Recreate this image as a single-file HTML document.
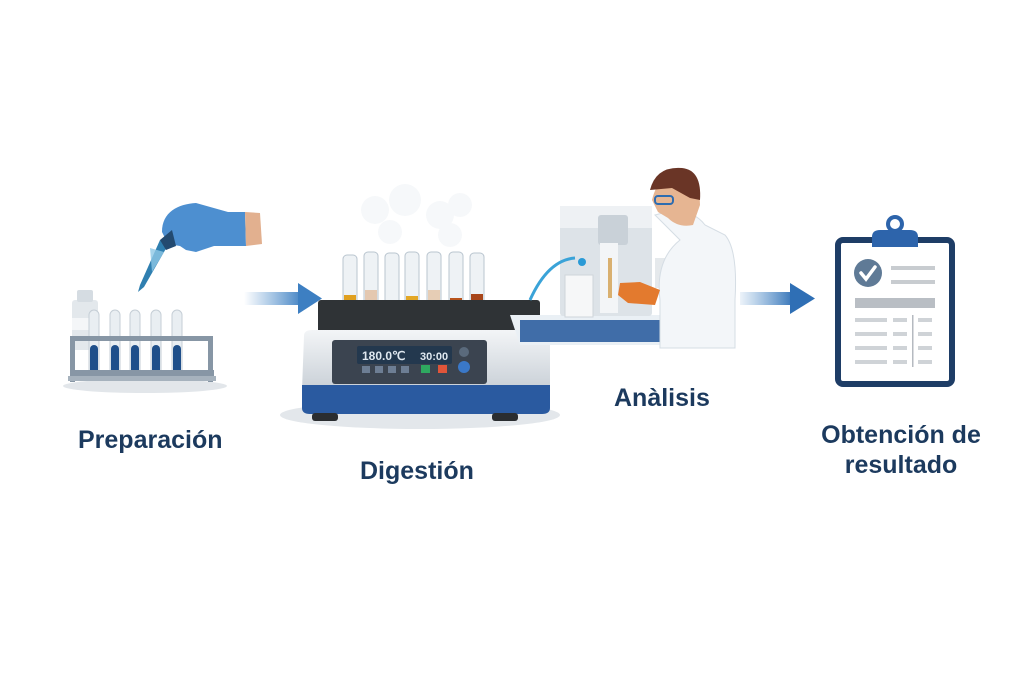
<!DOCTYPE html>
<html><head><meta charset="utf-8"><style>
html,body{margin:0;padding:0;background:#fff;width:1024px;height:683px;overflow:hidden}
svg{display:block}
text{font-family:"Liberation Sans",sans-serif;font-weight:bold;fill:#1c3a5e}
</style></head><body>
<svg width="1024" height="683" viewBox="0 0 1024 683" xmlns="http://www.w3.org/2000/svg">
<defs>
<linearGradient id="ar" x1="0" x2="1"><stop offset="0" stop-color="#4a8bc9" stop-opacity="0"/><stop offset="1" stop-color="#3d7fc2"/></linearGradient>
<linearGradient id="ar2" x1="0" x2="1"><stop offset="0" stop-color="#4a8bc9" stop-opacity="0.1"/><stop offset="1" stop-color="#2f6fb5"/></linearGradient>
<linearGradient id="body" x1="0" y1="0" x2="0" y2="1"><stop offset="0" stop-color="#f3f5f7"/><stop offset="1" stop-color="#c9d0d7"/></linearGradient>
</defs>

<!-- Preparación -->
<ellipse cx="145" cy="386" rx="82" ry="7" fill="#e2e6ea"/>
<rect x="72" y="300" width="26" height="50" rx="3" fill="#e3e8ec"/>
<rect x="77" y="290" width="16" height="12" rx="2" fill="#d5dce2"/>
<rect x="72" y="318" width="26" height="12" fill="#f4f6f8"/>
<g fill="#e9eef2" stroke="#c5ced6">
<rect x="89" y="310" width="10" height="70" rx="5"/><rect x="110" y="310" width="10" height="70" rx="5"/><rect x="130" y="310" width="10" height="70" rx="5"/><rect x="151" y="310" width="10" height="70" rx="5"/><rect x="172" y="310" width="10" height="70" rx="5"/>
</g>
<g fill="#1f4f8a">
<rect x="90" y="345" width="8" height="34" rx="4"/><rect x="111" y="345" width="8" height="34" rx="4"/><rect x="131" y="345" width="8" height="34" rx="4"/><rect x="152" y="345" width="8" height="34" rx="4"/><rect x="173" y="345" width="8" height="34" rx="4"/>
</g>
<rect x="72" y="336" width="140" height="5" fill="#8796a5"/>
<rect x="70" y="370" width="144" height="6" fill="#8796a5"/>
<rect x="70" y="336" width="5" height="46" fill="#8796a5"/>
<rect x="208" y="336" width="5" height="46" fill="#8796a5"/>
<rect x="68" y="376" width="148" height="5" fill="#a6b2bd"/>
<path d="M160 240 L140 285 L138 292 L144 287 L168 245 Z" fill="#2f7fb0"/>
<path d="M150 248 L164 252 L152 272 Z" fill="#8fc8e6" opacity="0.8"/>
<path d="M162 232 C162 212 178 204 196 203 L228 212 L245 212 L246 246 L214 246 L196 252 L186 250 L180 246 L168 244 Z" fill="#4d8fd0"/>
<path d="M245 212 L260 213 L262 244 L246 246 Z" fill="#e2b08f"/>
<path d="M160 240 L172 230 L176 246 L166 250 Z" fill="#234a70"/>
<text x="78" y="448" font-size="25">Preparación</text>

<!-- arrow 1 -->
<rect x="244" y="292" width="60" height="13" fill="url(#ar)"/>
<path d="M298 283 L322 298.5 L298 314 Z" fill="#3d7fc2"/>

<!-- Digestión -->
<ellipse cx="420" cy="415" rx="140" ry="14" fill="#e3e7eb"/>
<g fill="#f3f6f8" opacity="0.7"><circle cx="375" cy="210" r="14"/><circle cx="405" cy="200" r="16"/><circle cx="440" cy="215" r="14"/><circle cx="460" cy="205" r="12"/><circle cx="390" cy="232" r="12"/><circle cx="450" cy="235" r="12"/></g>
<g fill="#eef2f5" stroke="#b9c5cf">
<rect x="343" y="255" width="14" height="58" rx="4"/><rect x="364" y="252" width="14" height="61" rx="4"/><rect x="385" y="253" width="14" height="60" rx="4"/><rect x="405" y="252" width="14" height="61" rx="4"/><rect x="427" y="252" width="14" height="61" rx="4"/><rect x="449" y="252" width="14" height="61" rx="4"/><rect x="470" y="253" width="14" height="60" rx="4"/>
</g>
<g>
<rect x="344" y="295" width="12" height="18" fill="#e0a020"/><rect x="365" y="290" width="12" height="23" fill="#e4c8b0"/><rect x="386" y="300" width="12" height="13" fill="#c85a1a"/><rect x="406" y="296" width="12" height="17" fill="#e3a726"/><rect x="428" y="290" width="12" height="23" fill="#e6cdb5"/><rect x="450" y="298" width="12" height="15" fill="#b8541c"/><rect x="471" y="294" width="12" height="19" fill="#a8461a"/>
</g>
<rect x="318" y="300" width="222" height="33" rx="3" fill="#2f3336"/>
<path d="M304 336 Q304 330 312 330 L540 330 Q550 330 550 338 L550 390 L302 390 Z" fill="url(#body)"/>
<path d="M302 385 L550 385 L550 408 Q550 414 542 414 L310 414 Q302 414 302 408 Z" fill="#2a5aa0"/>
<rect x="312" y="413" width="26" height="8" rx="3" fill="#2a2d30"/><rect x="492" y="413" width="26" height="8" rx="3" fill="#2a2d30"/>
<rect x="332" y="340" width="155" height="44" rx="3" fill="#3b4450"/>
<rect x="357" y="346" width="95" height="18" rx="2" fill="#23384e"/>
<text x="362" y="360" font-size="12" font-weight="normal" style="fill:#dfe8f0">180.0℃</text>
<text x="420" y="360" font-size="11" font-weight="normal" style="fill:#dfe8f0">30:00</text>
<rect x="362" y="366" width="8" height="7" fill="#6d7e94"/><rect x="375" y="366" width="8" height="7" fill="#6d7e94"/><rect x="388" y="366" width="8" height="7" fill="#6d7e94"/><rect x="401" y="366" width="8" height="7" fill="#6d7e94"/>
<rect x="421" y="365" width="9" height="8" fill="#2ea860"/><rect x="438" y="365" width="9" height="8" fill="#e0553a"/>
<circle cx="464" cy="352" r="5" fill="#5a6a7c"/><circle cx="464" cy="367" r="6" fill="#3a78c8"/>
<text x="360" y="479" font-size="25">Digestión</text>

<!-- Anàlisis -->
<path d="M510 315 L680 315 L680 345 L520 345 Z" fill="#eaf0f5"/>
<rect x="520" y="320" width="160" height="22" fill="#2d5ea0" opacity="0.9"/>
<rect x="560" y="206" width="92" height="110" rx="3" fill="#dde3e8"/>
<rect x="560" y="206" width="92" height="22" fill="#eef1f4"/>
<rect x="598" y="215" width="30" height="30" rx="3" fill="#c9d1d8"/>
<rect x="600" y="243" width="18" height="70" fill="#f3f5f7"/>
<rect x="565" y="275" width="28" height="42" fill="#f6f7f8" stroke="#cfd5da"/>
<rect x="655" y="258" width="20" height="30" fill="#e5e9ec"/>
<path d="M530 300 Q548 260 575 258" stroke="#3aa3d8" stroke-width="3" fill="none"/>
<circle cx="582" cy="262" r="4" fill="#2a9ad6"/>
<rect x="608" y="258" width="4" height="40" fill="#d9b070"/>
<path d="M655 215 Q690 205 705 225 L725 235 Q738 250 735 300 L735 348 L660 348 L660 300 Q655 260 680 240 Z" fill="#f3f6f9" stroke="#d5dde4"/>
<path d="M652 200 Q660 168 688 172 Q700 185 700 205 L693 225 Q678 228 668 218 L658 212 Z" fill="#e6b592"/>
<path d="M650 190 Q656 166 682 168 Q702 170 700 200 L690 198 L672 188 Z" fill="#6a3526"/>
<rect x="655" y="196" width="18" height="8" rx="3" fill="none" stroke="#2d6cb0" stroke-width="2"/>
<path d="M620 283 L640 282 L660 290 L655 305 L628 303 L618 295 Z" fill="#e37a2e"/>
<text x="614" y="406" font-size="25">Anàlisis</text>

<!-- arrow 2 -->
<rect x="740" y="292" width="55" height="13" fill="url(#ar2)"/>
<path d="M790 283 L815 298.5 L790 314 Z" fill="#2f6fb5"/>

<!-- clipboard -->
<rect x="838" y="240" width="114" height="144" rx="5" fill="#fff" stroke="#1e3d66" stroke-width="6"/>
<circle cx="895" cy="224" r="7" fill="none" stroke="#2d64ab" stroke-width="4"/>
<path d="M872 237 Q872 230 880 230 L910 230 Q918 230 918 237 L918 247 L872 247 Z" fill="#2d64ab"/>
<circle cx="868" cy="273" r="14" fill="#5f7a96"/>
<path d="M861 273 L866 279 L875 267" stroke="#fff" stroke-width="3.5" fill="none" stroke-linecap="round"/>
<rect x="891" y="266" width="44" height="4" fill="#c8ccd0"/><rect x="891" y="280" width="44" height="4" fill="#c8ccd0"/>
<rect x="855" y="298" width="80" height="10" fill="#b9bec4"/>
<g fill="#cfd3d7">
<rect x="855" y="318" width="32" height="4"/><rect x="893" y="318" width="14" height="4"/><rect x="918" y="318" width="14" height="4"/>
<rect x="855" y="332" width="32" height="4"/><rect x="893" y="332" width="14" height="4"/><rect x="918" y="332" width="14" height="4"/>
<rect x="855" y="346" width="32" height="4"/><rect x="893" y="346" width="14" height="4"/><rect x="918" y="346" width="14" height="4"/>
<rect x="855" y="360" width="32" height="4"/><rect x="893" y="360" width="14" height="4"/><rect x="918" y="360" width="14" height="4"/>
</g>
<rect x="912" y="315" width="1.5" height="52" fill="#b5bac0"/>
<text x="901" y="443" font-size="25" text-anchor="middle">Obtención de</text>
<text x="901" y="473" font-size="25" text-anchor="middle">resultado</text>
</svg>
</body></html>
